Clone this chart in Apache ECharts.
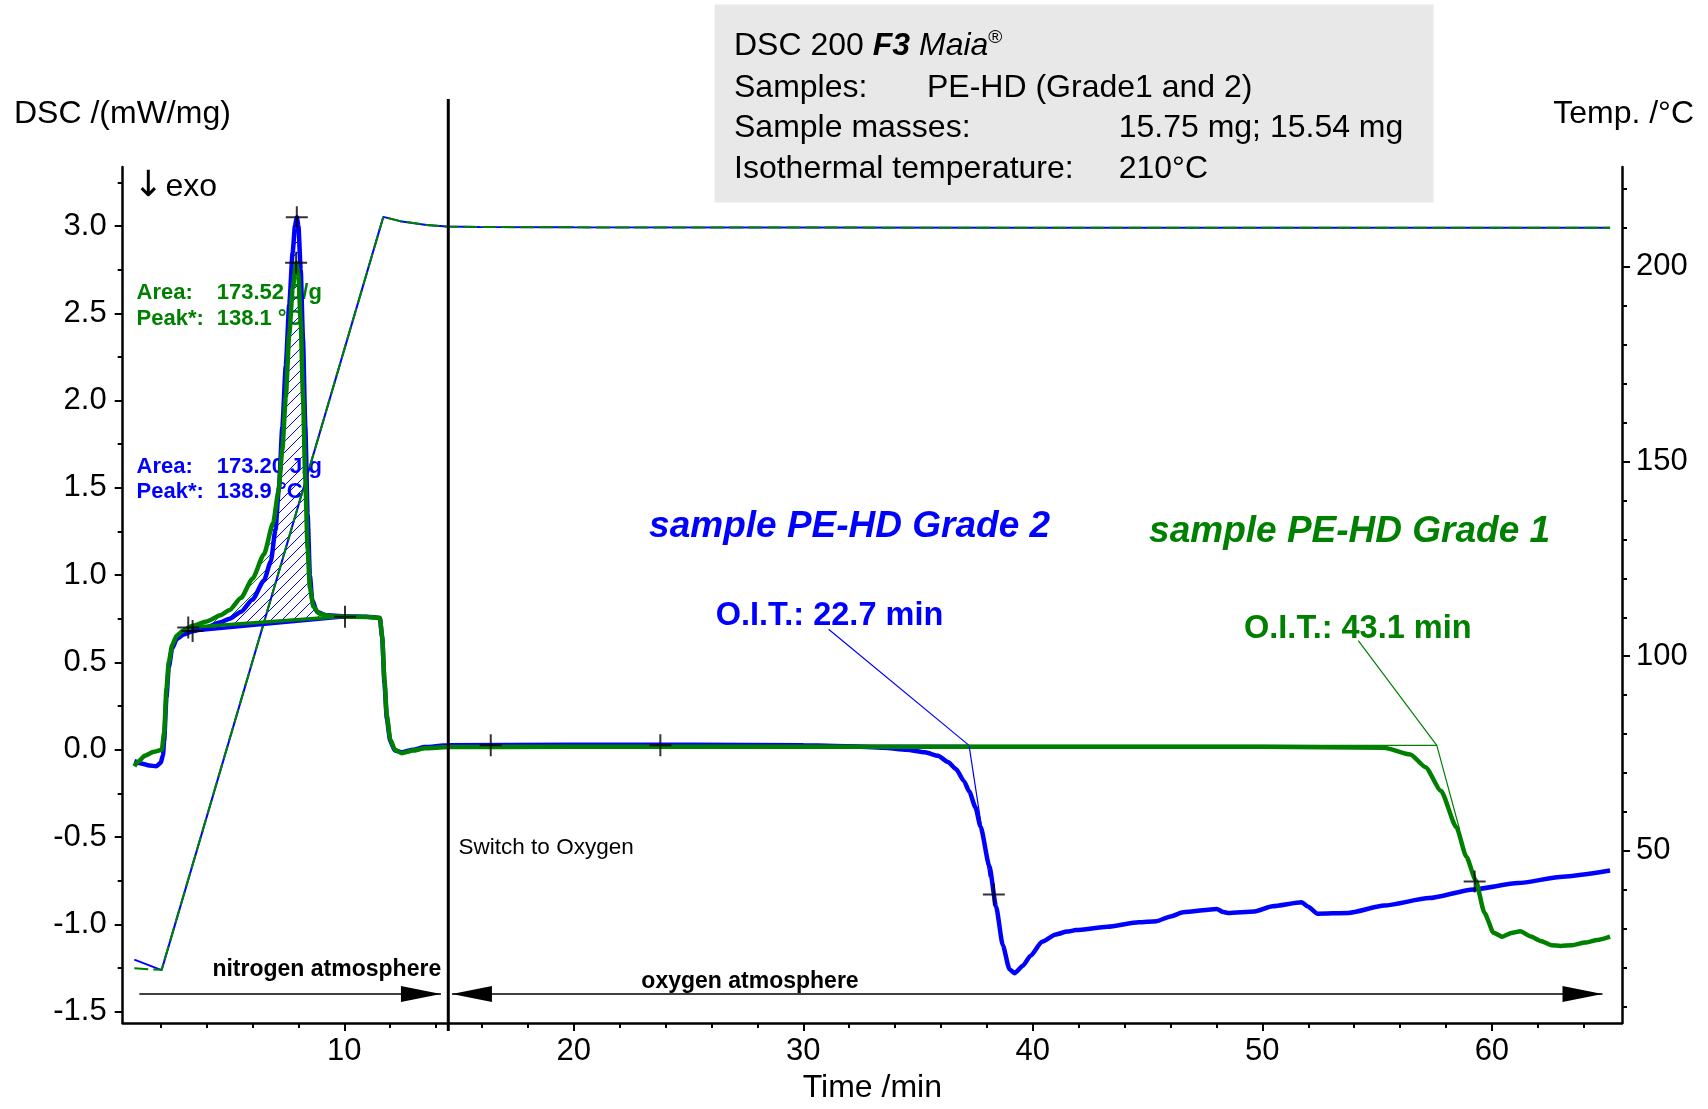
<!DOCTYPE html>
<html>
<head>
<meta charset="utf-8">
<script src="https://cdn.jsdelivr.net/npm/echarts@6/dist/echarts.min.js"></script>
<style>html,body{margin:0;padding:0;background:#fff}#c{width:1708px;height:1109px}</style>
</head>
<body>
<div id="c"></div>
<script>
// ---------------- DATA ----------------
const timeTicks = [10, 20, 30, 40, 50, 60];
const timeMinorTicks = [2,4,6,8,12,14,16,18,22,24,26,28,32,34,36,38,42,44,46,48,52,54,56,58,62,64];
const dscTicks = [-1.5, -1.0, -0.5, 0, 0.5, 1.0, 1.5, 2.0, 2.5, 3.0];
const dscMinorTicks = [-1.25, -0.75, -0.25, 0.25, 0.75, 1.25, 1.75, 2.25, 2.75, 3.25];
const tempTicks = [50, 100, 150, 200];
const tempMinorTicks = [10,20,30,40,60,70,80,90,110,120,130,140,160,170,180,190,210,220];

// DSC signal, sample PE-HD Grade 2 (blue) [time min, mW/mg]
const dscGrade2 = [
  [0.85,-0.065],[1.2,-0.08],[1.5,-0.09],[1.8,-0.095],[2.0,-0.075],[2.1,-0.03],[2.15,0.05],[2.25,0.3],
  [2.35,0.47],[2.5,0.58],[2.7,0.635],[3.0,0.66],[3.4,0.68],[4.0,0.70],[4.6,0.73],[5.0,0.75],[5.5,0.79],
  [6.0,0.86],[6.5,0.97],[6.8,1.08],[7.0,1.26],[7.15,1.5],[7.3,1.85],[7.45,2.2],[7.6,2.55],[7.75,2.85],
  [7.85,3.0],[7.93,3.05],[8.0,3.0],[8.1,2.75],[8.2,2.35],[8.3,1.85],[8.4,1.35],[8.5,1.0],[8.6,0.86],
  [8.8,0.79],[9.2,0.77],[10.0,0.765],[11.0,0.762],[11.55,0.755],[11.65,0.64],[11.75,0.38],[11.85,0.18],
  [12.0,0.05],[12.2,-0.005],[12.5,-0.015],[13.0,0.0],[13.5,0.015],[14.5,0.025],[20,0.028],[25,0.028],
  [30,0.025],[32,0.02],[33.5,0.012],[34.5,0.0],[35.3,-0.015],[35.87,-0.035],[36.3,-0.07],[36.65,-0.11],
  [37.0,-0.18],[37.23,-0.24],[37.5,-0.33],[37.72,-0.44],[38.11,-0.67],[38.4,-0.9],[38.69,-1.12],
  [38.98,-1.257],[39.2,-1.28],[39.57,-1.237],[39.9,-1.18],[40.4,-1.10],[41.0,-1.058],[41.5,-1.042],[41.88,-1.033],
  [43.25,-1.014],[44.61,-0.988],[45.39,-0.982],[46.0,-0.955],[46.55,-0.931],[48.01,-0.912],[48.3,-0.93],
  [48.5,-0.935],[49.66,-0.927],[50.44,-0.897],[51.71,-0.874],[52.0,-0.9],[52.39,-0.939],[53.75,-0.935],
  [55.31,-0.893],[57.26,-0.85],[59.2,-0.80],[61.14,-0.764],[63.09,-0.727],[65.15,-0.692]
];
// DSC signal, sample PE-HD Grade 1 (green)
const dscGrade1 = [
  [0.85,-0.095],[1.0,-0.07],[1.3,-0.035],[1.7,-0.012],[2.05,0.0],[2.15,0.1],[2.25,0.35],[2.35,0.5],
  [2.5,0.6],[2.7,0.655],[3.0,0.685],[3.4,0.71],[4.0,0.735],[4.6,0.77],[5.0,0.80],[5.5,0.87],[6.0,0.98],
  [6.5,1.12],[6.9,1.30],[7.13,1.48],[7.3,1.72],[7.45,2.02],[7.6,2.38],[7.75,2.64],[7.9,2.79],[8.0,2.72],
  [8.1,2.45],[8.2,2.02],[8.3,1.55],[8.4,1.15],[8.5,0.93],[8.65,0.82],[8.9,0.78],[9.4,0.765],[10.0,0.762],
  [11.0,0.76],[11.55,0.755],[11.65,0.65],[11.75,0.4],[11.85,0.2],[12.0,0.06],[12.2,0.0],[12.5,-0.02],
  [13.0,-0.005],[13.5,0.008],[14.5,0.015],[20,0.017],[30,0.017],[40,0.017],[50,0.017],[55.3,0.012],
  [56.45,-0.027],[57.11,-0.10],[57.78,-0.235],[58.45,-0.443],[58.89,-0.613],[59.29,-0.746],[59.68,-0.935],
  [60.07,-1.048],[60.46,-1.071],[60.85,-1.05],[61.24,-1.04],[61.7,-1.07],[62.12,-1.095],[62.6,-1.12],
  [62.99,-1.124],[63.5,-1.12],[64.06,-1.105],[64.6,-1.09],[65.15,-1.071]
];
// Temperature [time min, °C]
const tempGrade2 = [[0.85,22.1],[2.04,19.4],[11.7,212.8],[12.43,211.7],[13.59,210.7],[14.46,210.3],[15.9,210.2],[20,210.1],[40,210.0],[65.15,210.0]];
const tempGrade1 = [[0.85,19.9],[1.5,19.6],[2.04,19.5],[11.7,212.8],[12.43,211.7],[13.59,210.7],[14.46,210.3],[15.9,210.2],[20,210.1],[40,210.0],[65.15,210.0]];

// Peak evaluation baselines (start, end)
const peakBaseGrade2 = [[3.39, 0.68], [10.03, 0.762]];
const peakBaseGrade1 = [[3.2, 0.70], [10.03, 0.765]];

// O.I.T. evaluation: baseline, leader + tangent
const oitBaseGrade2 = [[16.38, 0.025], [37.22, 0.025]];
const oitTangentGrade2 = [[31.1, 0.69], [37.22, 0.025], [38.1, -0.73]];
const oitBaseGrade1 = [[16.38, 0.025], [57.6, 0.025]];
const oitTangentGrade1 = [[54.18, 0.625], [57.6, 0.025], [58.6, -0.46]];

// Evaluation markers (+)
const evalMarks = [[7.93,3.05],[7.9,2.79],[3.2,0.70],[3.39,0.68],[10.03,0.762],[16.38,0.025],[23.77,0.025],[38.3,-0.83],[59.25,-0.755]];

// Atmosphere arrows [x1, y1, x2, y2, head at start, head at end] and gas switch
const switchTime = 14.53;
const atmosphereArrows = [
  [1.07, -1.40, 14.21, -1.40, 0, 1],
  [14.69, -1.40, 64.82, -1.40, 1, 1]
];

// ---------------- CHART ----------------
const FONT = 'Liberation Sans, Arial, Helvetica, sans-serif';
const BLUE = '#0000ff', GREEN = '#008000';
const chart = echarts.init(document.getElementById('c'), null, {renderer: 'canvas', width: 1708, height: 1109});

function hatch(color) {
  const c = document.createElement('canvas');
  c.width = 11; c.height = 11;
  const g = c.getContext('2d');
  g.strokeStyle = color; g.lineWidth = 1;
  g.beginPath();
  g.moveTo(-1, 12); g.lineTo(12, -1);
  g.moveTo(-6, 6); g.lineTo(6, -6);
  g.moveTo(5, 17); g.lineTo(17, 5);
  g.stroke();
  return c;
}
function hatchSeries(curve, base, color, z) {
  const pat = hatch(color);
  return {
    type: 'custom', xAxisIndex: 0, yAxisIndex: 0, data: [[5, 1]], silent: true, z: z,
    renderItem(params, api) {
      const pts = [api.coord(base[0])];
      curve.forEach(p => { if (p[0] > base[0][0] && p[0] < base[1][0]) pts.push(api.coord(p)); });
      pts.push(api.coord(base[1]));
      return {type: 'polygon', shape: {points: pts}, style: {fill: {image: pat, repeat: 'repeat'}, stroke: null}};
    }
  };
}
function line(data, color, width, extra) {
  return Object.assign({
    type: 'line', data: data, xAxisIndex: 0, yAxisIndex: 0, showSymbol: false, symbol: 'none',
    lineStyle: {color: color, width: width}, silent: true, animation: false, clip: true
  }, extra || {});
}
function arrowHead(tip, from, len, half) {
  const dx = tip[0] - from[0], dy = tip[1] - from[1];
  const d = Math.sqrt(dx * dx + dy * dy) || 1;
  const ux = dx / d, uy = dy / d;
  const bx = tip[0] - ux * len, by = tip[1] - uy * len;
  return {type: 'polygon', shape: {points: [tip, [bx - uy * half, by + ux * half], [bx + uy * half, by - ux * half]]},
          style: {fill: '#000', stroke: null}};
}
const arrowSeries = {
  type: 'custom', xAxisIndex: 0, yAxisIndex: 0, data: atmosphereArrows, silent: true, z: 4,
  renderItem(params, api) {
    const p1 = api.coord([api.value(0), api.value(1)]);
    const p2 = api.coord([api.value(2), api.value(3)]);
    const children = [{type: 'line', shape: {x1: p1[0], y1: p1[1], x2: p2[0], y2: p2[1]}, style: {stroke: '#000', lineWidth: 1.5}}];
    if (api.value(4)) children.push(arrowHead(p1, p2, 40, 8));
    if (api.value(5)) children.push(arrowHead(p2, p1, 40, 8));
    return {type: 'group', children: children};
  }
};
const axisLineStyle = {show: true, onZero: false, lineStyle: {color: '#000', width: 2.5}};
const labelStyle = {color: '#000', fontSize: 31, fontFamily: FONT};

const option = {
  animation: false,
  backgroundColor: '#fff',
  grid: {left: 122.7, right: 86, top: 167, bottom: 78, containLabel: false},
  xAxis: [
    {type: 'value', min: 0.344, max: 65.67, position: 'bottom',
     axisLine: axisLineStyle, splitLine: {show: false},
     axisTick: {show: true, customValues: timeTicks, length: 8, lineStyle: {color: '#000', width: 2}},
     axisLabel: Object.assign({customValues: timeTicks, margin: 13}, labelStyle),
     name: 'Time /min', nameLocation: 'middle', nameGap: 47,
     nameTextStyle: {color: '#000', fontSize: 32, fontFamily: FONT}},
    {type: 'value', min: 0.344, max: 65.67, position: 'bottom', gridIndex: 0,
     axisLine: {show: false, onZero: false}, splitLine: {show: false}, axisLabel: {show: false},
     axisTick: {show: true, customValues: timeMinorTicks, length: 5, lineStyle: {color: '#000', width: 2}}}
  ],
  yAxis: [
    {type: 'value', min: -1.566, max: 3.338, position: 'left',
     axisLine: axisLineStyle, splitLine: {show: false},
     axisTick: {show: true, customValues: dscTicks, length: 8, lineStyle: {color: '#000', width: 2}},
     axisLabel: Object.assign({customValues: dscTicks, margin: 16, formatter: v => v.toFixed(1)}, labelStyle)},
    {type: 'value', min: 5.8, max: 225.6, position: 'right',
     axisLine: axisLineStyle, splitLine: {show: false},
     axisTick: {show: true, customValues: tempTicks, length: 8, lineStyle: {color: '#000', width: 2}},
     axisLabel: Object.assign({customValues: tempTicks, margin: 14}, labelStyle)},
    {type: 'value', min: -1.566, max: 3.338, position: 'left',
     axisLine: {show: false, onZero: false}, splitLine: {show: false}, axisLabel: {show: false},
     axisTick: {show: true, customValues: dscMinorTicks, length: 5, lineStyle: {color: '#000', width: 2}}},
    {type: 'value', min: 5.8, max: 225.6, position: 'right',
     axisLine: {show: false, onZero: false}, splitLine: {show: false}, axisLabel: {show: false},
     axisTick: {show: true, customValues: tempMinorTicks, length: 5, lineStyle: {color: '#000', width: 2}}}
  ],
  series: [
    hatchSeries(dscGrade1, peakBaseGrade1, GREEN, 1),
    hatchSeries(dscGrade2, peakBaseGrade2, BLUE, 1.1),
    line(tempGrade2, BLUE, 2, {yAxisIndex: 1}),
    line(tempGrade1, GREEN, 2, {yAxisIndex: 1, lineStyle: {color: GREEN, width: 2, type: [14, 5]}}),
    line(dscGrade2, BLUE, 4.5, {smooth: 0.2, smoothMonotone: 'x'}),
    line(dscGrade1, GREEN, 4.5, {smooth: 0.2, smoothMonotone: 'x'}),
    line(peakBaseGrade2, BLUE, 3.5),
    line(peakBaseGrade1, GREEN, 3.5),
    line(oitBaseGrade2, BLUE, 1.2),
    line(oitTangentGrade2, BLUE, 1.2),
    line(oitBaseGrade1, GREEN, 1.2),
    line(oitTangentGrade1, GREEN, 1.2),
    arrowSeries,
    {type: 'scatter', data: evalMarks, xAxisIndex: 0, yAxisIndex: 0, silent: true, z: 5,
     symbol: 'path://M0 11 L22 11 M11 0 L11 22', symbolSize: 22,
     itemStyle: {color: 'rgba(0,0,0,0)', borderColor: '#000', borderWidth: 2}}
  ]
};
chart.setOption(option);

const sx = chart.convertToPixel({xAxisIndex: 0}, switchTime);
const T = (text, x, y, o) => ({type: 'text', x: x, y: y, z: 1, silent: true,
  style: Object.assign({text: text, fill: '#000', fontSize: 32, fontFamily: FONT, align: 'left', verticalAlign: 'middle'}, o || {})});
chart.setOption({
  graphic: [
    {type: 'rect', shape: {x: 714.6, y: 4.4, width: 718.9, height: 198.2}, style: {fill: '#e8e8e8'}, z: 0, silent: true},
    {type: 'text', x: 734, y: 46.5, z: 1, silent: true, style: {
      text: '{n|DSC 200 }{b|F3}{i| Maia}{s|®}', verticalAlign: 'middle', align: 'left',
      rich: {
        n: {fontSize: 32, fontFamily: FONT, fill: '#000', lineHeight: 36},
        b: {fontSize: 32, fontFamily: FONT, fontWeight: 'bold', fontStyle: 'italic', fill: '#000', lineHeight: 36},
        i: {fontSize: 32, fontFamily: FONT, fontStyle: 'italic', fill: '#000', lineHeight: 36},
        s: {fontSize: 19, fontFamily: FONT, fill: '#000', verticalAlign: 'top', lineHeight: 19}
      }}},
    T('Samples:', 734, 88),
    T('PE-HD (Grade1 and 2)', 927, 88),
    T('Sample masses:', 734, 128.4),
    T('15.75 mg; 15.54 mg', 1118.7, 128.4),
    T('Isothermal temperature:', 734, 168.7),
    T('210°C', 1118.7, 168.7),
    T('DSC /(mW/mg)', 14, 114),
    T('Temp. /°C', 1694, 114, {align: 'right'}),
    T('↓', 133, 187, {fontSize: 36, fontFamily: 'DejaVu Sans, Liberation Sans, sans-serif'}),
    T('exo', 165.5, 187),
    T('Area:', 136.5, 293, {fontSize: 22, fontWeight: 'bold', fill: GREEN}),
    T('173.52 J/g', 216.7, 293, {fontSize: 22, fontWeight: 'bold', fill: GREEN}),
    T('Peak*:', 136.5, 319.3, {fontSize: 22, fontWeight: 'bold', fill: GREEN}),
    T('138.1 °C', 216.7, 319.3, {fontSize: 22, fontWeight: 'bold', fill: GREEN}),
    T('Area:', 136.5, 466.7, {fontSize: 22, fontWeight: 'bold', fill: BLUE}),
    T('173.20 J/g', 216.7, 466.7, {fontSize: 22, fontWeight: 'bold', fill: BLUE}),
    T('Peak*:', 136.5, 491.7, {fontSize: 22, fontWeight: 'bold', fill: BLUE}),
    T('138.9 °C', 216.7, 491.7, {fontSize: 22, fontWeight: 'bold', fill: BLUE}),
    T('sample PE-HD Grade 2', 849.6, 527, {fontSize: 37, fontWeight: 'bold', fontStyle: 'italic', fill: BLUE, align: 'center'}),
    T('sample PE-HD Grade 1', 1349.6, 531.5, {fontSize: 37, fontWeight: 'bold', fontStyle: 'italic', fill: GREEN, align: 'center'}),
    T('O.I.T.: 22.7 min', 829.5, 616.5, {fontSize: 32.5, fontWeight: 'bold', fill: BLUE, align: 'center'}),
    T('O.I.T.: 43.1 min', 1357.8, 629.5, {fontSize: 32.5, fontWeight: 'bold', fill: GREEN, align: 'center'}),
    T('Switch to Oxygen', 458.6, 847.5, {fontSize: 22.5}),
    T('nitrogen atmosphere', 326.8, 970, {fontSize: 23, fontWeight: 'bold', align: 'center'}),
    T('oxygen atmosphere', 750, 982, {fontSize: 23, fontWeight: 'bold', align: 'center'}),
    {type: 'line', z: 10, silent: true, shape: {x1: sx, y1: 99, x2: sx, y2: 1031}, style: {stroke: '#000', lineWidth: 3}}
  ]
});
</script>
</body>
</html>
